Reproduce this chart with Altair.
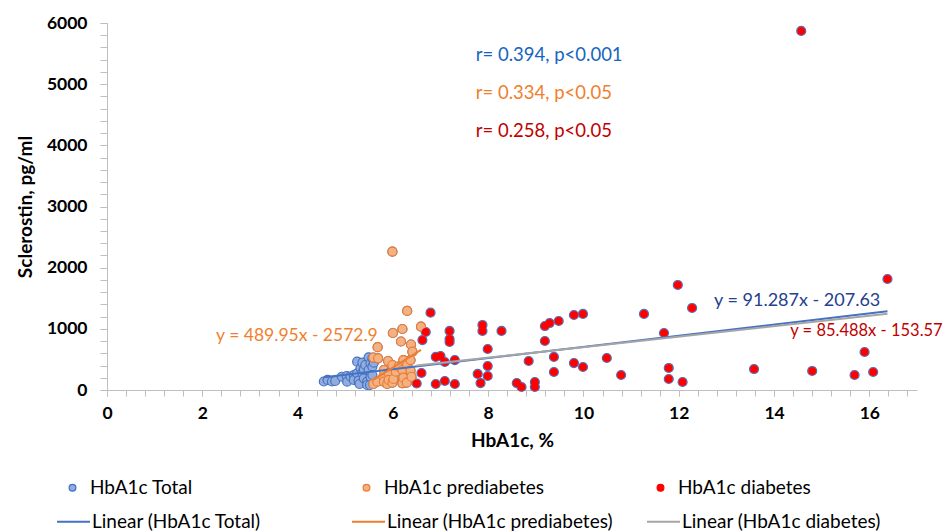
import altair as alt
import pandas as pd

# ---------------- data ----------------
series_names = ["HbA1c Total", "HbA1c prediabetes", "HbA1c diabetes"]
fill_colors = ["#92ACDD", "#F4B183", "#FF0000"]
stroke_colors = ["#4472C4", "#ED7D31", "#FF0000"]

# points visible only as the blue "Total" series (normal HbA1c)
normal_x = [4.55, 4.63, 4.72, 4.79, 4.93, 5.03, 5.04, 5.11, 5.18, 5.18, 5.25, 5.25,
            5.28, 5.30, 5.32, 5.36, 5.36, 5.39, 5.39, 5.42, 5.46, 5.46, 5.49, 5.49,
            5.52, 5.53, 5.53, 5.57, 5.57, 5.57, 5.60]
normal_y = [139, 164, 139, 147, 217, 229, 136, 221, 245, 164, 273, 463,
            152, 98, 355, 283, 446, 191, 338, 409, 136, 82, 327, 535,
            82, 437, 217, 518, 381, 245, 446]

pre_x = [5.59, 5.59, 5.67, 5.68, 5.69, 5.80, 5.81, 5.81, 5.88, 5.90, 5.91, 5.91,
         5.99, 5.99, 5.99, 6.00, 6.01, 6.06, 6.12, 6.17, 6.20, 6.20, 6.20, 6.22,
         6.22, 6.29, 6.30, 6.30, 6.37, 6.37, 6.38, 6.39, 6.41, 6.59]
pre_y = [531, 98, 136, 700, 518, 213, 327, 136, 98, 474, 278, 164,
         2261, 409, 119, 932, 180, 299, 381, 793, 997, 327, 110, 490,
         201, 119, 1292, 409, 490, 316, 744, 217, 626, 1035]

dia_x = [6.50, 6.60, 6.62, 6.69, 6.79, 6.90, 6.90, 7.00, 7.09, 7.09, 7.19, 7.19,
         7.19, 7.30, 7.30, 7.78, 7.84, 7.88, 7.88, 7.99, 7.99, 7.99, 8.28, 8.60,
         8.70, 8.85, 8.98, 8.98, 9.19, 9.19, 9.29, 9.38, 9.38, 9.48, 9.80, 9.80,
         9.99, 9.99, 10.49, 10.79, 11.27, 11.69, 11.79, 11.79, 11.98, 12.08, 12.28,
         13.58, 14.57, 14.80, 15.69, 15.90, 16.08, 16.38]
dia_y = [106, 278, 817, 948, 1264, 540, 98, 556, 458, 147, 965, 834,
         785, 490, 98, 262, 114, 1063, 965, 670, 392, 229, 965, 114,
         49, 474, 131, 49, 1046, 801, 1095, 540, 294, 1128, 1226, 441,
         1243, 376, 523, 245, 1243, 932, 360, 180, 1717, 131, 1341,
         343, 5870, 311, 245, 621, 294, 1815]

# trendlines as printed on the chart
trend_names = ["Linear (HbA1c Total)", "Linear (HbA1c prediabetes)", "Linear (HbA1c diabetes)"]
trend_colors = ["#4472C4", "#ED7D31", "#A5A5A5"]
trend_slopes = [91.287, 489.95, 85.488]
trend_intercepts = [-207.63, -2572.9, -153.57]

# annotations
ann_labels = ["r= 0.394, p<0.001", "r= 0.334, p<0.05", "r= 0.258, p<0.05",
              "y = 489.95x - 2572.9", "y = 91.287x - 207.63", "y = 85.488x - 153.57"]
ann_x = [7.74, 7.74, 7.74, 2.29, 12.74, 14.34]
ann_y = [5477, 4856, 4235, 883, 1455, 965]
ann_colors = ["#1565C0", "#F07F2E", "#C00000", "#F07F2E", "#24408E", "#C00000"]
ann_sizes = [18.5, 18.5, 18.5, 17.5, 18, 16.5]

x_major_values = list(range(0, 17, 2))
x_minor_values = [round(i * 0.4, 1) for i in range(43)]
y_major_values = list(range(0, 6001, 1000))
y_minor_values = list(range(0, 6001, 200))

# ---------------- tables ----------------
all_x = normal_x + pre_x + dia_x
all_y = normal_y + pre_y + dia_y
points = pd.DataFrame({
    "x": all_x + pre_x + dia_x,
    "y": all_y + pre_y + dia_y,
    "series": [series_names[0]] * len(all_x) + [series_names[1]] * len(pre_x)
              + [series_names[2]] * len(dia_x),
})

ranges = [(min(all_x), max(all_x)), (min(pre_x), max(pre_x)), (min(dia_x), max(dia_x))]
line_rows = []
for name, a, b, (lo, hi) in zip(trend_names, trend_slopes, trend_intercepts, ranges):
    for xv in (lo, hi):
        line_rows.append({"x": xv, "y": a * xv + b, "trend": name})
lines = pd.DataFrame(line_rows)

FONT = "Lato"
AXIS_GREY = "#BFBFBF"

x_scale = alt.Scale(domain=[0, 17], nice=False, zero=False)
y_scale = alt.Scale(domain=[0, 6000], nice=False)

x_axis_main = alt.Axis(orient="bottom", values=x_major_values, format="d",
                       labelOverlap=False, labelFlush=False,
                       labelFont=FONT, labelFontSize=17.5, labelFontWeight="bold",
                       labelColor="#000000", labelPadding=8,
                       tickSize=6, tickColor=AXIS_GREY, domainColor=AXIS_GREY,
                       grid=False, titleFont=FONT, titleFontSize=19, titleFontWeight="bold",
                       titleColor="#000000", titleBaseline="middle", titleY=50)
x_axis_minor = alt.Axis(orient="bottom", values=x_minor_values, labels=False, domain=False,
                        tickSize=6, tickColor=AXIS_GREY, grid=False, title=None)
y_axis_main = alt.Axis(orient="left", values=y_major_values, format="d",
                       labelOverlap=False, labelFlush=False,
                       labelFont=FONT, labelFontSize=17.5, labelFontWeight="bold",
                       labelColor="#000000", labelPadding=13,
                       tickSize=7, tickColor=AXIS_GREY, domainColor=AXIS_GREY,
                       grid=False, titleFont=FONT, titleFontSize=19, titleFontWeight="bold",
                       titleColor="#000000", titleBaseline="middle", titleX=-82)
y_axis_minor = alt.Axis(orient="left", values=y_minor_values, labels=False, domain=False,
                        tickSize=7, tickColor=AXIS_GREY, grid=False, title=None)

X_main = alt.X("x:Q", scale=x_scale, axis=x_axis_main, title="HbA1c, %")
Y_main = alt.Y("y:Q", scale=y_scale, axis=y_axis_main, title="Sclerostin, pg/ml")
X_minor = alt.X("x:Q", scale=x_scale, axis=x_axis_minor)
Y_minor = alt.Y("y:Q", scale=y_scale, axis=y_axis_minor)
X_none = alt.X("x:Q", scale=x_scale, axis=None)
Y_none = alt.Y("y:Q", scale=y_scale, axis=None)

leg_pts = alt.Legend(orient="none", legendX=-44, legendY=455, direction="horizontal",
                     columns=3, gridAlign="all", columnPadding=106, title=None,
                     symbolType="circle", symbolSize=46, symbolStrokeWidth=1.2,
                     labelOffset=8, labelFont=FONT, labelFontSize=19,
                     labelColor="#000000", labelLimit=400)
leg_lines = alt.Legend(orient="none", legendX=-51, legendY=481, direction="horizontal",
                       columns=3, gridAlign="all", columnPadding=30, title=None,
                       symbolType="stroke", symbolSize=1089, symbolStrokeWidth=2,
                       labelOffset=1, labelFont=FONT, labelFontSize=19,
                       labelColor="#000000", labelLimit=400)

fill_enc = alt.Fill("series:N", scale=alt.Scale(domain=series_names, range=fill_colors), legend=leg_pts)
stroke_enc = alt.Stroke("series:N", scale=alt.Scale(domain=series_names, range=stroke_colors), legend=leg_pts)

# invisible layer that carries only the minor tick marks of both axes
minor_layer = alt.Chart(points).mark_circle(opacity=0).encode(x=X_minor, y=Y_minor)

total_layer = alt.Chart(points).transform_filter(alt.datum.series == series_names[0]).mark_circle(
    size=81, opacity=1, strokeWidth=1.2).encode(x=X_main, y=Y_main, fill=fill_enc, stroke=stroke_enc)
pre_layer = alt.Chart(points).transform_filter(alt.datum.series == series_names[1]).mark_circle(
    size=81, opacity=1, strokeWidth=1.2).encode(x=X_none, y=Y_none, fill=fill_enc, stroke=stroke_enc)
dia_layer = alt.Chart(points).transform_filter(alt.datum.series == series_names[2]).mark_circle(
    size=64, opacity=1, strokeWidth=0).encode(x=X_none, y=Y_none, fill=fill_enc, stroke=stroke_enc)

line_layer = alt.Chart(lines).mark_line(strokeWidth=2).encode(
    x=X_none, y=Y_none,
    color=alt.Color("trend:N", scale=alt.Scale(domain=trend_names, range=trend_colors),
                    legend=leg_lines),
)

text_layers = []
for lab, xv, yv, col, fs in zip(ann_labels, ann_x, ann_y, ann_colors, ann_sizes):
    df = pd.DataFrame({"x": [xv], "y": [yv], "label": [lab]})
    text_layers.append(
        alt.Chart(df).mark_text(align="left", baseline="middle", font=FONT,
                                fontSize=fs, color=col).encode(x=X_none, y=Y_none, text="label:N")
    )

chart = alt.layer(minor_layer, total_layer, pre_layer, dia_layer, line_layer, *text_layers).resolve_axis(
    x="independent", y="independent"
).properties(
    width=810, height=367,
    padding={"left": 107, "top": 23, "right": 28, "bottom": 141},
    autosize=alt.AutoSizeParams(type="none"),
    background="white",
).configure_view(stroke=None)

chart.save("out.html", embed_options={"renderer": "svg", "actions": False})
